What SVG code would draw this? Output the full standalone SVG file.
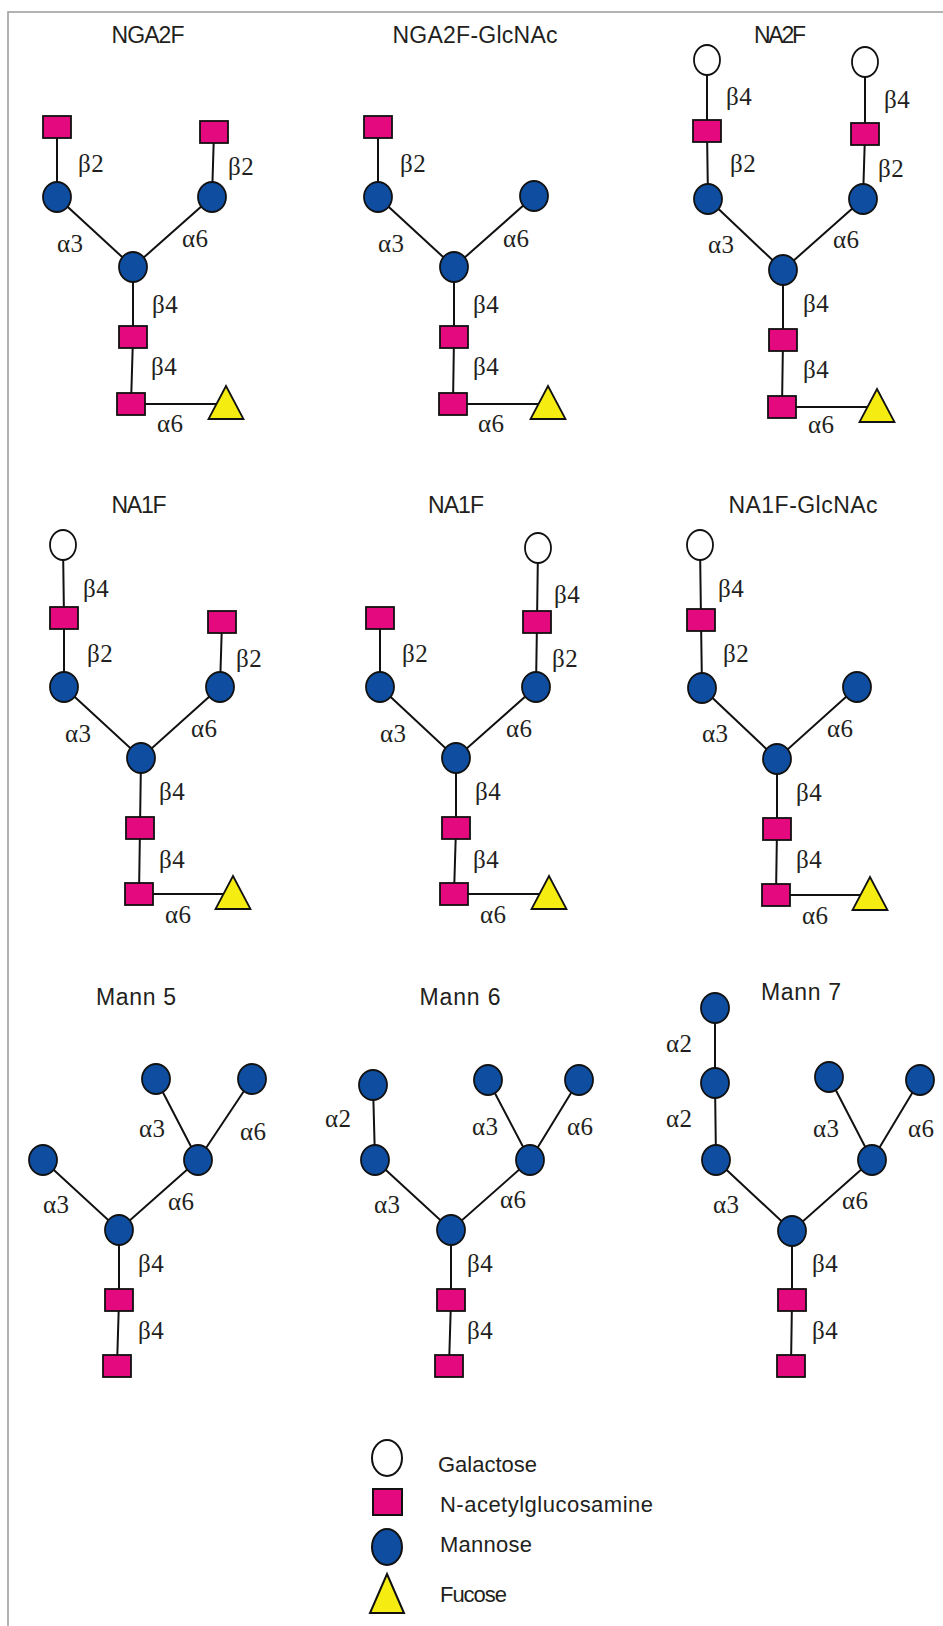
<svg xmlns="http://www.w3.org/2000/svg" xmlns:xlink="http://www.w3.org/1999/xlink" width="943" height="1626" viewBox="0 0 943 1626">
<style>
.title{font-family:"Liberation Sans",Arial,sans-serif;font-size:23px;fill:#231f20;text-anchor:middle}
.lbl{font-family:"Liberation Serif","Times New Roman",serif;font-size:25px;fill:#231f20;letter-spacing:0.5px}
.leg{font-family:"Liberation Sans",Arial,sans-serif;font-size:22px;fill:#231f20}
.ln{stroke:#111;stroke-width:2;fill:none}
</style>
<defs>
<rect id="sq" x="-14" y="-11" width="28" height="22" fill="#e5097f" stroke="#111" stroke-width="1.8"/>
<ellipse id="man" cx="0" cy="0" rx="14" ry="15" fill="#0e4d9f" stroke="#111" stroke-width="1.8"/>
<ellipse id="gal" cx="0" cy="0" rx="13" ry="15" fill="#fff" stroke="#111" stroke-width="1.8"/>
<polygon id="fuc" points="0,-17 17.5,16 -17.5,16" fill="#f5ec12" stroke="#111" stroke-width="1.8" stroke-linejoin="miter"/>
</defs>
<rect width="943" height="1626" fill="#fff"/>
<path d="M8,1626 V12 H943" fill="none" stroke="#9a9a9a" stroke-width="1.5"/>

<g id="connectors" class="ln">
<!-- Panel 1 NGA2F -->
<path d="M57,127 V197 L133,267 L212,197 L214,132 M133,267 V337 L131,404 H226"/>
<!-- Panel 2 -->
<path d="M378,127 V197 L454,267 L534,196 M454,267 V337 L453,404 H548"/>
<!-- Panel 3 -->
<path d="M707,60 V131 L708,199 L783,270 L863,199 L865,134 L865,62 M783,270 V340 L782,407 H877"/>
<!-- Panel 4 -->
<path d="M63,545 L64,618 V687 L141,758 L220,687 L222,622 M141,758 L140,828 L139,894 H233"/>
<!-- Panel 5 -->
<path d="M538,548 L537,622 L536,687 L456,758 L380,687 V618 M456,758 V828 L454,894 H549"/>
<!-- Panel 6 -->
<path d="M700,545 L701,620 L702,688 L777,759 L857,687 M777,759 V829 L776,895 H870"/>
<!-- Panel 7 Mann 5 -->
<path d="M43,1160 L119,1230 L198,1160 L156,1079 M198,1160 L252,1079 M119,1230 V1300 L117,1366"/>
<!-- Panel 8 Mann 6 -->
<path d="M373,1085 L375,1160 L451,1230 L530,1160 L488,1080 M530,1160 L579,1080 M451,1230 V1300 L449,1366"/>
<!-- Panel 9 Mann 7 -->
<path d="M715,1008 V1083 L716,1160 L792,1231 L872,1160 L829,1077 M872,1160 L920,1080 M792,1231 V1300 L791,1366"/>
</g>

<g id="NGA2F">
<text class="title" x="148" y="43" textLength="73">NGA2F</text>
<use id="p1-glc1" xlink:href="#sq" x="57" y="127"/>
<use id="p1-glc2" xlink:href="#sq" x="214" y="132"/>
<use id="p1-man1" xlink:href="#man" x="57" y="197"/>
<use id="p1-man2" xlink:href="#man" x="212" y="197"/>
<use id="p1-man3" xlink:href="#man" x="133" y="267"/>
<use id="p1-glc3" xlink:href="#sq" x="133" y="337"/>
<use id="p1-glc4" xlink:href="#sq" x="131" y="404"/>
<use id="p1-fuc" xlink:href="#fuc" x="226" y="403"/>
<text class="lbl" x="78" y="172">β2</text>
<text class="lbl" x="228" y="175">β2</text>
<text class="lbl" x="57" y="252">α3</text>
<text class="lbl" x="182" y="247">α6</text>
<text class="lbl" x="152" y="313">β4</text>
<text class="lbl" x="151" y="375">β4</text>
<text class="lbl" x="157" y="432">α6</text>
</g>

<g id="NGA2F-GlcNAc">
<text class="title" x="475" y="43" textLength="165">NGA2F-GlcNAc</text>
<use id="p2-glc1" xlink:href="#sq" x="378" y="127"/>
<use id="p2-man1" xlink:href="#man" x="378" y="197"/>
<use id="p2-man2" xlink:href="#man" x="534" y="196"/>
<use id="p2-man3" xlink:href="#man" x="454" y="267"/>
<use id="p2-glc3" xlink:href="#sq" x="454" y="337"/>
<use id="p2-glc4" xlink:href="#sq" x="453" y="404"/>
<use id="p2-fuc" xlink:href="#fuc" x="548" y="403"/>
<text class="lbl" x="400" y="172">β2</text>
<text class="lbl" x="378" y="252">α3</text>
<text class="lbl" x="503" y="247">α6</text>
<text class="lbl" x="473" y="313">β4</text>
<text class="lbl" x="473" y="375">β4</text>
<text class="lbl" x="478" y="432">α6</text>
</g>

<g id="NA2F">
<text class="title" x="780" y="43" textLength="52">NA2F</text>
<use id="p3-gal1" xlink:href="#gal" x="707" y="60"/>
<use id="p3-gal2" xlink:href="#gal" x="865" y="62"/>
<use id="p3-glc1" xlink:href="#sq" x="707" y="131"/>
<use id="p3-glc2" xlink:href="#sq" x="865" y="134"/>
<use id="p3-man1" xlink:href="#man" x="708" y="199"/>
<use id="p3-man2" xlink:href="#man" x="863" y="199"/>
<use id="p3-man3" xlink:href="#man" x="783" y="270"/>
<use id="p3-glc3" xlink:href="#sq" x="783" y="340"/>
<use id="p3-glc4" xlink:href="#sq" x="782" y="407"/>
<use id="p3-fuc" xlink:href="#fuc" x="877" y="406"/>
<text class="lbl" x="726" y="105">β4</text>
<text class="lbl" x="884" y="108">β4</text>
<text class="lbl" x="730" y="172">β2</text>
<text class="lbl" x="878" y="177">β2</text>
<text class="lbl" x="708" y="253">α3</text>
<text class="lbl" x="833" y="248">α6</text>
<text class="lbl" x="803" y="312">β4</text>
<text class="lbl" x="803" y="378">β4</text>
<text class="lbl" x="808" y="433">α6</text>
</g>

<g id="NA1F-a">
<text class="title" x="139" y="513" textLength="55">NA1F</text>
<use id="p4-gal1" xlink:href="#gal" x="63" y="545"/>
<use id="p4-glc1" xlink:href="#sq" x="64" y="618"/>
<use id="p4-glc2" xlink:href="#sq" x="222" y="622"/>
<use id="p4-man1" xlink:href="#man" x="64" y="687"/>
<use id="p4-man2" xlink:href="#man" x="220" y="687"/>
<use id="p4-man3" xlink:href="#man" x="141" y="758"/>
<use id="p4-glc3" xlink:href="#sq" x="140" y="828"/>
<use id="p4-glc4" xlink:href="#sq" x="139" y="894"/>
<use id="p4-fuc" xlink:href="#fuc" x="233" y="893"/>
<text class="lbl" x="83" y="597">β4</text>
<text class="lbl" x="87" y="662">β2</text>
<text class="lbl" x="236" y="667">β2</text>
<text class="lbl" x="65" y="742">α3</text>
<text class="lbl" x="191" y="737">α6</text>
<text class="lbl" x="159" y="800">β4</text>
<text class="lbl" x="159" y="868">β4</text>
<text class="lbl" x="165" y="923">α6</text>
</g>

<g id="NA1F-b">
<text class="title" x="456" y="513" textLength="56">NA1F</text>
<use id="p5-gal1" xlink:href="#gal" x="538" y="548"/>
<use id="p5-glc1" xlink:href="#sq" x="380" y="618"/>
<use id="p5-glc2" xlink:href="#sq" x="537" y="622"/>
<use id="p5-man1" xlink:href="#man" x="380" y="687"/>
<use id="p5-man2" xlink:href="#man" x="536" y="687"/>
<use id="p5-man3" xlink:href="#man" x="456" y="758"/>
<use id="p5-glc3" xlink:href="#sq" x="456" y="828"/>
<use id="p5-glc4" xlink:href="#sq" x="454" y="894"/>
<use id="p5-fuc" xlink:href="#fuc" x="549" y="893"/>
<text class="lbl" x="554" y="603">β4</text>
<text class="lbl" x="402" y="662">β2</text>
<text class="lbl" x="552" y="667">β2</text>
<text class="lbl" x="380" y="742">α3</text>
<text class="lbl" x="506" y="737">α6</text>
<text class="lbl" x="475" y="800">β4</text>
<text class="lbl" x="473" y="868">β4</text>
<text class="lbl" x="480" y="923">α6</text>
</g>

<g id="NA1F-GlcNAc">
<text class="title" x="803" y="513" textLength="149">NA1F-GlcNAc</text>
<use id="p6-gal1" xlink:href="#gal" x="700" y="545"/>
<use id="p6-glc1" xlink:href="#sq" x="701" y="620"/>
<use id="p6-man1" xlink:href="#man" x="702" y="688"/>
<use id="p6-man2" xlink:href="#man" x="857" y="687"/>
<use id="p6-man3" xlink:href="#man" x="777" y="759"/>
<use id="p6-glc3" xlink:href="#sq" x="777" y="829"/>
<use id="p6-glc4" xlink:href="#sq" x="776" y="895"/>
<use id="p6-fuc" xlink:href="#fuc" x="870" y="894"/>
<text class="lbl" x="718" y="597">β4</text>
<text class="lbl" x="723" y="662">β2</text>
<text class="lbl" x="702" y="742">α3</text>
<text class="lbl" x="827" y="737">α6</text>
<text class="lbl" x="796" y="801">β4</text>
<text class="lbl" x="796" y="868">β4</text>
<text class="lbl" x="802" y="924">α6</text>
</g>

<g id="Mann5">
<text class="title" x="136" y="1005" textLength="80">Mann 5</text>
<use id="p7-man1" xlink:href="#man" x="156" y="1079"/>
<use id="p7-man2" xlink:href="#man" x="252" y="1079"/>
<use id="p7-man3" xlink:href="#man" x="43" y="1160"/>
<use id="p7-man4" xlink:href="#man" x="198" y="1160"/>
<use id="p7-man5" xlink:href="#man" x="119" y="1230"/>
<use id="p7-glc1" xlink:href="#sq" x="119" y="1300"/>
<use id="p7-glc2" xlink:href="#sq" x="117" y="1366"/>
<text class="lbl" x="139" y="1137">α3</text>
<text class="lbl" x="240" y="1140">α6</text>
<text class="lbl" x="43" y="1213">α3</text>
<text class="lbl" x="168" y="1210">α6</text>
<text class="lbl" x="138" y="1272">β4</text>
<text class="lbl" x="138" y="1339">β4</text>
</g>

<g id="Mann6">
<text class="title" x="460" y="1005" textLength="81">Mann 6</text>
<use id="p8-man1" xlink:href="#man" x="373" y="1085"/>
<use id="p8-man2" xlink:href="#man" x="488" y="1080"/>
<use id="p8-man3" xlink:href="#man" x="579" y="1080"/>
<use id="p8-man4" xlink:href="#man" x="375" y="1160"/>
<use id="p8-man5" xlink:href="#man" x="530" y="1160"/>
<use id="p8-man6" xlink:href="#man" x="451" y="1230"/>
<use id="p8-glc1" xlink:href="#sq" x="451" y="1300"/>
<use id="p8-glc2" xlink:href="#sq" x="449" y="1366"/>
<text class="lbl" x="325" y="1127">α2</text>
<text class="lbl" x="472" y="1135">α3</text>
<text class="lbl" x="567" y="1135">α6</text>
<text class="lbl" x="374" y="1213">α3</text>
<text class="lbl" x="500" y="1208">α6</text>
<text class="lbl" x="467" y="1272">β4</text>
<text class="lbl" x="467" y="1339">β4</text>
</g>

<g id="Mann7">
<text class="title" x="801" y="1000" textLength="80">Mann 7</text>
<use id="p9-man1" xlink:href="#man" x="715" y="1008"/>
<use id="p9-man2" xlink:href="#man" x="715" y="1083"/>
<use id="p9-man3" xlink:href="#man" x="829" y="1077"/>
<use id="p9-man4" xlink:href="#man" x="920" y="1080"/>
<use id="p9-man5" xlink:href="#man" x="716" y="1160"/>
<use id="p9-man6" xlink:href="#man" x="872" y="1160"/>
<use id="p9-man7" xlink:href="#man" x="792" y="1231"/>
<use id="p9-glc1" xlink:href="#sq" x="792" y="1300"/>
<use id="p9-glc2" xlink:href="#sq" x="791" y="1366"/>
<text class="lbl" x="666" y="1052">α2</text>
<text class="lbl" x="666" y="1127">α2</text>
<text class="lbl" x="813" y="1137">α3</text>
<text class="lbl" x="908" y="1137">α6</text>
<text class="lbl" x="713" y="1213">α3</text>
<text class="lbl" x="842" y="1209">α6</text>
<text class="lbl" x="812" y="1272">β4</text>
<text class="lbl" x="812" y="1339">β4</text>
</g>

<g id="legend">
<ellipse cx="387" cy="1458" rx="15" ry="18" fill="#fff" stroke="#111" stroke-width="2"/>
<text class="leg" x="438" y="1472" textLength="99">Galactose</text>
<rect x="373" y="1489" width="29" height="26" fill="#e5097f" stroke="#111" stroke-width="2"/>
<text class="leg" x="440" y="1512" textLength="213">N-acetylglucosamine</text>
<ellipse cx="387" cy="1547" rx="15" ry="18" fill="#0e4d9f" stroke="#111" stroke-width="2"/>
<text class="leg" x="440" y="1552" textLength="92">Mannose</text>
<polygon points="387,1574 404,1613 370,1613" fill="#f5ec12" stroke="#111" stroke-width="2"/>
<text class="leg" x="440" y="1602" textLength="67">Fucose</text>
</g>
</svg>
